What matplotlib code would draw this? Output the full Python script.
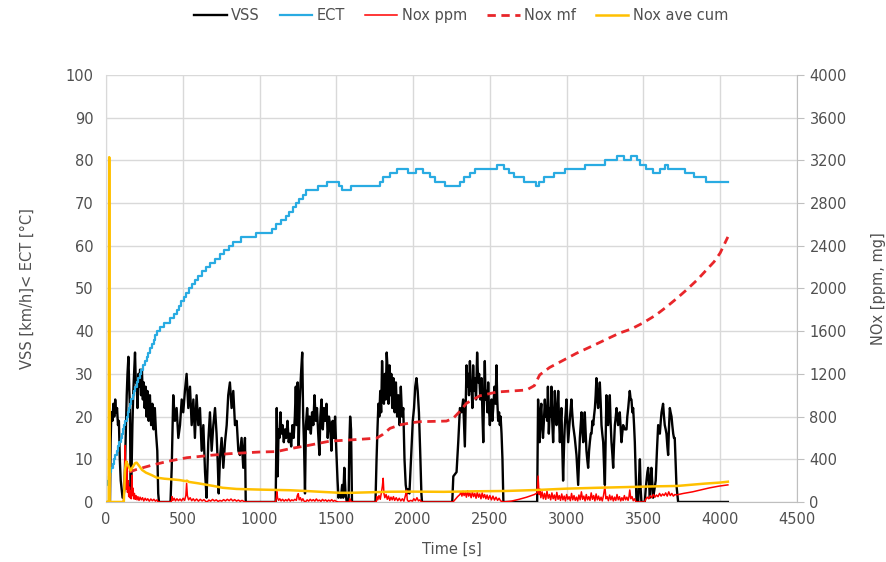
"""
Engine test trace: vehicle speed, coolant temperature and NOx over time.
Left axis: VSS / ECT, right axis: NOx (ppm, mg).
"""

import matplotlib
matplotlib.use("Agg")
import matplotlib.pyplot as plt

# ── Data ────────────────────────────────────────────────────────────────────
vss_t = [0, 26, 30, 35, 42, 48, 54, 60, 66, 72, 78, 84, 90, 96, 102, 108, 113, 120,
         128, 135, 140, 146, 152, 156, 160, 166, 172, 178, 184, 189, 194, 200, 205, 211,
         217, 222, 228, 234, 240, 246, 252, 258, 264, 270, 278, 286, 294, 302, 310, 318,
         326, 334, 340, 345,
         420, 428, 438, 449, 460, 471, 482, 493, 503, 514, 525, 536, 547, 558, 569, 579,
         590, 601, 612, 623, 634, 645, 655, 666, 677, 688, 699, 710, 720, 728, 734, 742,
         753, 764, 775, 786, 796, 807, 818, 829, 840, 851, 862, 872, 883, 894, 905, 910,
         1105, 1112, 1118, 1124, 1130, 1136, 1142, 1150, 1158, 1166, 1174, 1182, 1190,
         1198, 1206, 1214, 1222, 1230, 1236, 1242, 1248, 1255, 1262, 1270, 1278, 1284,
         1290, 1296, 1302, 1310, 1318, 1326, 1334, 1342, 1350, 1358, 1366, 1374, 1382,
         1390, 1396, 1404, 1412, 1420, 1428, 1436, 1444, 1452, 1460, 1468, 1476, 1484,
         1492, 1500, 1508, 1514, 1522, 1530, 1538, 1545, 1552, 1560, 1568, 1580, 1585,
         1590, 1596, 1602,
         1755, 1762, 1768, 1774, 1780, 1786, 1792, 1798, 1804, 1810, 1816, 1822, 1828,
         1834, 1840, 1846, 1852, 1858, 1864, 1872, 1880, 1888, 1896, 1904, 1912, 1920,
         1928, 1936, 1944, 1952, 1960, 1968, 1976, 1984, 1990, 1998, 2006, 2014, 2022,
         2030, 2038, 2046, 2054, 2058,
         2255, 2262, 2283, 2294, 2305, 2316, 2326, 2337, 2348, 2354, 2359, 2364, 2370,
         2376, 2381, 2386, 2391, 2396, 2402, 2410, 2417, 2424, 2430, 2438, 2446, 2452,
         2457, 2462, 2467, 2472, 2478, 2484, 2489, 2494, 2500, 2506, 2511, 2516, 2522,
         2530, 2537, 2543, 2548, 2554, 2560, 2565, 2570, 2576, 2582, 2588,
         2808, 2814, 2819, 2824, 2830, 2835, 2840, 2846, 2852, 2858, 2863, 2868, 2873,
         2878, 2884, 2891, 2896, 2901, 2906, 2912, 2918, 2923, 2928, 2934, 2940, 2945,
         2950, 2956, 2961, 2966, 2972, 2977, 2983, 2988, 2994, 2999, 3004, 3010, 3020,
         3031, 3036, 3042, 3053, 3064, 3070, 3075, 3086, 3097, 3102, 3108, 3113, 3118,
         3124, 3129, 3134, 3140, 3146, 3151, 3157, 3162, 3168, 3173, 3178, 3184, 3189,
         3194, 3200, 3205, 3210, 3216, 3222, 3227, 3232, 3238, 3244, 3249, 3254, 3259,
         3265, 3270, 3276, 3281, 3286, 3292, 3298, 3303, 3308, 3314, 3320, 3325, 3330,
         3335, 3341, 3346, 3352, 3357, 3362, 3368, 3379, 3390, 3395, 3401, 3406, 3411,
         3417, 3422, 3428, 3433, 3439, 3444, 3450, 3455, 3466, 3472, 3477, 3482, 3487,
         3509, 3515, 3520, 3526, 3531, 3537, 3542, 3547, 3552, 3558, 3563, 3572, 3580,
         3588, 3596, 3602, 3607, 3613, 3618, 3623, 3628, 3634, 3639, 3645, 3650, 3656,
         3661, 3666, 3672, 3677, 3683, 3688, 3694, 3699, 3704, 3710, 3715, 3726, 4050]
vss_v = [0, 0, 14, 21, 19, 23, 20, 24, 21, 22, 18, 19, 10, 5, 3, 1, 1, 3,
         15, 25, 30, 34, 26, 22, 2, 6, 18, 26, 31, 35, 28, 28, 22, 30,
         27, 31, 25, 31, 24, 28, 22, 27, 20, 26, 19, 25, 18, 23, 17, 22,
         16, 12, 2, 0,
         0, 8, 25, 19, 22, 15, 18, 24, 21, 26, 30, 22, 27, 18, 24, 15,
         25, 18, 22, 12, 18, 7, 1, 14, 21, 12, 18, 22, 16, 9, 2, 10,
         15, 8, 14, 18, 25, 28, 22, 26, 18, 19, 12, 11, 15, 8, 15, 0,
         0, 22, 6, 17, 15, 21, 16, 18, 14, 17, 15, 19, 14,
         16, 13, 18, 15, 20, 27, 18, 28, 13, 24, 30, 35, 20,
         13, 2, 18, 22, 17, 20, 16, 21, 18, 25, 19, 22, 16,
         11, 20, 24, 17, 22, 19, 23, 15, 20, 18, 12, 19, 15,
         20, 12, 5, 1, 2, 1, 4, 1, 8, 2, 0, 0, 14,
         20, 17, 0,
         0, 10, 17, 23, 20, 26, 21, 33, 26, 23, 30, 24, 35,
         31, 23, 32, 25, 30, 22, 29, 21, 28, 20, 25, 18, 27,
         20, 22, 10, 4, 2, 3, 2, 8, 13, 19, 22, 27, 29,
         26, 21, 12, 2, 0,
         0, 6, 7, 14, 22, 21, 24, 13, 32, 27, 30, 25, 33,
         26, 27, 22, 32, 26, 29, 24, 35, 28, 30, 24, 29, 20,
         14, 25, 33, 24, 26, 21, 28, 22, 18, 23, 24, 19, 22,
         27, 23, 32, 24, 19, 21, 18, 20, 16, 10, 0,
         0, 24, 18, 14, 21, 23, 18, 15, 19, 24, 20, 22, 19,
         27, 16, 22, 20, 27, 19, 14, 21, 26, 22, 18, 21, 26,
         20, 14, 19, 22, 12, 5, 13, 18, 21, 24, 19, 14, 19,
         24, 21, 18, 15, 11, 7, 4, 15, 21, 17, 14, 18, 21,
         16, 12, 10, 8, 12, 14, 16, 16, 19, 18, 20, 22, 25,
         29, 24, 22, 25, 28, 23, 18, 16, 14, 8, 4, 15, 25,
         21, 18, 22, 25, 19, 14, 11, 8, 13, 18, 20, 22, 20,
         18, 19, 21, 17, 14, 16, 18, 17, 17, 20, 22, 24, 26,
         24, 24, 21, 22, 18, 14, 6, 0, 0, 6, 10, 3, 0,
         0, 3, 5, 7, 8, 4, 1, 5, 8, 4, 1, 3, 5,
         12, 18, 17, 16, 19, 21, 22, 23, 20, 18, 17, 16, 13,
         11, 17, 22, 21, 20, 18, 16, 15, 15, 9, 4, 0, 0]

# coolant temperature: time of each 1-degree step and the level held after it
ect_t = [0, 9, 17, 26, 35, 43, 52, 61, 69, 78, 87, 95, 103, 111, 119, 127, 134,
         142, 150, 157, 165, 173, 180, 189, 199, 209, 219, 229, 240, 252, 264, 276,
         288, 300, 310, 320, 330, 350, 380, 420, 440, 460, 475, 490, 505, 520, 540,
         560, 580, 600, 625, 650, 680, 710, 740, 770, 800, 830, 880, 980, 1080, 1110,
         1140, 1170, 1195, 1220, 1240, 1260, 1280, 1300, 1380, 1440, 1520, 1540, 1595,
         1785, 1805, 1850, 1895, 1970, 2020, 2065, 2110, 2140, 2210, 2305, 2330, 2370,
         2403, 2545, 2590, 2625, 2660, 2720, 2800, 2820, 2850, 2920, 2990, 3120, 3250,
         3330, 3375, 3420, 3455, 3480, 3515, 3560, 3610, 3640, 3660, 3700, 3770, 3830,
         3905, 4050]
ect_v = [4, 5, 6, 7, 8, 9, 10, 11, 12, 13, 14, 15, 16, 17, 18, 19, 20,
         21, 22, 23, 24, 25, 26, 27, 28, 29, 30, 31, 32, 33, 34, 35,
         36, 37, 38, 39, 40, 41, 42, 43, 44, 45, 46, 47, 48, 49, 50,
         51, 52, 53, 54, 55, 56, 57, 58, 59, 60, 61, 62, 63, 64, 65,
         66, 67, 68, 69, 70, 71, 72, 73, 74, 75, 74, 73, 74,
         75, 76, 77, 78, 77, 78, 77, 76, 75, 74, 75, 76, 77,
         78, 79, 78, 77, 76, 75, 74, 75, 76, 77, 78, 79, 80,
         81, 80, 81, 80, 79, 78, 77, 78, 79, 78, 78, 77, 76,
         75, 75]

nox_ppm_t = [0, 112, 118, 122, 125, 128, 132, 136, 140, 144, 148, 152, 156, 160, 164,
             168, 172, 176, 180, 185, 190, 196, 202, 208, 215, 222, 230, 238, 246, 255,
             264, 272, 282, 292, 302, 312, 322, 332, 340, 425, 430, 436, 444, 452, 462,
             472, 482, 492, 502, 512, 520, 525, 530, 538, 548, 558, 568, 578, 590, 602,
             614, 626, 638, 650, 660, 670, 682, 694, 706, 718, 730, 742, 754, 766, 778,
             790, 802, 814, 826, 838, 850, 862, 874, 886, 898, 910, 1105, 1110, 1113,
             1117, 1124, 1132, 1140, 1150, 1160, 1170, 1180, 1190, 1200, 1210, 1220, 1230,
             1240, 1246, 1252, 1258, 1266, 1274, 1282, 1290, 1300, 1310, 1320, 1330, 1340,
             1350, 1360, 1370, 1380, 1390, 1400, 1410, 1420, 1430, 1440, 1450, 1460, 1470,
             1480, 1490, 1500, 1513, 1584, 1588, 1594, 1602, 1760, 1764, 1770, 1778, 1786,
             1794, 1800, 1805, 1810, 1816, 1824, 1832, 1840, 1848, 1856, 1864, 1872, 1880,
             1890, 1900, 1910, 1920, 1930, 1940, 1950, 1957, 1962, 1970, 1985, 1995, 2005,
             2015, 2025, 2035, 2045, 2055, 2260, 2275, 2290, 2305, 2312, 2318, 2325, 2332,
             2340, 2347, 2355, 2362, 2370, 2378, 2386, 2394, 2402, 2410, 2418, 2426, 2434,
             2442, 2450, 2458, 2466, 2474, 2482, 2490, 2500, 2510, 2520, 2530, 2540, 2550,
             2560, 2570, 2580, 2590, 2640, 2690, 2740, 2790, 2808, 2814, 2820, 2826, 2832,
             2840, 2848, 2856, 2864, 2872, 2880, 2888, 2896, 2904, 2912, 2920, 2928, 2936,
             2944, 2952, 2960, 2968, 2976, 2984, 2992, 3000, 3008, 3016, 3024, 3032, 3040,
             3048, 3056, 3064, 3072, 3080, 3088, 3096, 3104, 3112, 3120, 3128, 3136, 3144,
             3152, 3160, 3168, 3176, 3184, 3192, 3200, 3208, 3216, 3224, 3232, 3240, 3249,
             3256, 3264, 3272, 3280, 3288, 3296, 3304, 3312, 3320, 3328, 3336, 3344, 3352,
             3360, 3368, 3376, 3384, 3392, 3400, 3406, 3411, 3418, 3426, 3434, 3442, 3450,
             3456, 3508, 3515, 3525, 3535, 3545, 3555, 3565, 3575, 3585, 3595, 3605, 3615,
             3625, 3635, 3645, 3655, 3665, 3675, 3685, 3695, 3705, 3715, 3760, 3820, 3880,
             3930, 3990, 4050]
nox_ppm_v = [0, 0, 60, 300, 530, 250, 120, 380, 90, 200, 50, 140, 40, 100, 30,
             250, 60, 130, 30, 80, 25, 60, 20, 50, 15, 45, 20, 40, 10, 35,
             15, 30, 8, 28, 12, 25, 8, 20, 0, 0, 50, 15, 35, 10, 30,
             12, 28, 10, 35, 15, 60, 175, 60, 20, 40, 12, 30, 10, 28, 8,
             25, 10, 22, 5, 2, 18, 8, 24, 10, 20, 5, 15, 8, 22, 10,
             25, 12, 28, 10, 22, 8, 18, 6, 15, 5, 0, 0, 50, 97,
             40, 15, 30, 10, 25, 8, 22, 10, 28, 8, 20, 12, 25,
             15, 60, 78, 20, 40, 10, 30, 8, 2, 20, 8, 25, 10,
             22, 8, 28, 10, 18, 6, 24, 10, 20, 6, 18, 8, 22,
             6, 15, 5, 0, 0, 30, 10, 0, 0, 50, 20, 60, 25,
             90, 150, 222, 80, 40, 70, 25, 55, 15, 45, 20, 50, 15,
             40, 12, 35, 10, 30, 8, 60, 110, 20, 5, 15, 8, 30,
             12, 40, 10, 20, 0, 0, 25, 50, 70, 95, 55, 100, 60,
             90, 45, 105, 55, 85, 40, 95, 50, 80, 35, 90, 45, 75,
             30, 85, 40, 70, 30, 65, 25, 60, 20, 55, 18, 45, 15,
             35, 10, 5, 0, 8, 25, 45, 70, 85, 243, 70, 120, 40,
             95, 30, 80, 25, 100, 35, 70, 20, 85, 30, 65, 15, 90,
             25, 60, 15, 75, 20, 55, 10, 70, 25, 50, 12, 80, 20,
             60, 15, 45, 10, 65, 20, 95, 25, 55, 10, 70, 20, 50,
             15, 85, 25, 60, 10, 75, 20, 55, 15, 45, 10, 60, 144,
             30, 50, 12, 65, 20, 55, 10, 45, 15, 70, 20, 50, 10,
             40, 15, 60, 20, 45, 15, 50, 112, 30, 50, 12, 30, 5,
             0, 0, 25, 45, 30, 60, 40, 70, 45, 65, 50, 80, 55,
             75, 60, 85, 55, 95, 60, 80, 55, 70, 66, 80, 95, 115,
             132, 148, 160]

nox_mf_t = [150, 200, 250, 300, 400, 527, 600, 677, 800, 900, 1000, 1112, 1200, 1300,
            1458, 1634, 1762, 1800, 1850, 1914, 1979, 2044, 2217, 2261, 2305, 2348,
            2435, 2545, 2739, 2790, 2824, 2889, 2955, 3064, 3180, 3260, 3346, 3420,
            3497, 3580, 3650, 3720, 3780, 3850, 3910, 3960, 4000, 4050]
nox_mf_v = [280, 305, 325, 345, 380, 415, 425, 437, 452, 460, 468, 472, 500, 525,
            570, 585, 598, 630, 690, 722, 740, 752, 758, 783, 850, 925,
            995, 1030, 1049, 1090, 1190, 1260, 1310, 1393, 1470, 1525, 1583, 1620,
            1677, 1750, 1827, 1910, 1986, 2080, 2173, 2250, 2333, 2483]

nox_cum_t = [0, 18, 21, 24, 116, 124, 132, 145, 160, 175, 190, 200, 215, 235, 260,
             300, 330, 380, 430, 480, 520, 527, 540, 600, 700, 760, 850, 1000, 1100,
             1198, 1300, 1400, 1523, 1600, 1700, 1850, 2000, 2200, 2400, 2600, 2800,
             3000, 3200, 3400, 3600, 3720, 3800, 3900, 4000, 4050]
nox_cum_v = [0, 0, 3230, 0, 0, 300, 380, 340, 295, 330, 365, 368, 340, 300, 275,
             250, 228, 218, 212, 205, 195, 200, 188, 175, 150, 133, 122, 116, 113,
             110, 103, 95, 86, 86, 90, 96, 97, 95, 100, 103, 112,
             125, 133, 140, 147, 150, 160, 172, 182, 190]

# ── Style ───────────────────────────────────────────────────────────────────
plt.rcParams["font.family"] = ["DejaVu Sans"]
txt = "#505050"
grid_col = "#d9d9d9"
axis_col = "#bfbfbf"
fs = 10.5

fig = plt.figure(figsize=(8.87, 5.62), dpi=100)
ax = fig.add_axes([0.1195, 0.1068, 0.779, 0.7598])
ax2 = ax.twinx()

# primary axis series
l_vss, = ax.plot(vss_t, vss_v, color="black", lw=1.7, label="VSS")
l_ect, = ax.plot(ect_t, ect_v, color="#29abe2", lw=1.6, drawstyle="steps-post",
                 label="ECT")

# secondary axis series (drawn on top, like the original)
l_ppm, = ax2.plot(nox_ppm_t, nox_ppm_v, color="#ff0000", lw=1.1, label="Nox ppm")
l_mf, = ax2.plot(nox_mf_t, nox_mf_v, color="#e8262a", lw=2.0, dashes=(3, 2),
                 label="Nox mf")
l_cum, = ax2.plot(nox_cum_t, nox_cum_v, color="#ffc000", lw=1.8, label="Nox ave cum")

ax.set_xlim(0, 4500)
ax.set_ylim(0, 100)
ax2.set_ylim(0, 4000)
ax.set_xticks(range(0, 4501, 500))
ax.set_yticks(range(0, 101, 10))
ax2.set_yticks(range(0, 4001, 400))

ax.grid(True, color=grid_col, lw=1.0)
ax.set_axisbelow(True)

for s in ["top", "right"]:
    ax.spines[s].set_visible(False)
ax.spines["left"].set_color(grid_col)
ax.spines["bottom"].set_color(axis_col)
for s in ["top", "left", "bottom"]:
    ax2.spines[s].set_visible(False)
ax2.spines["right"].set_color(axis_col)

ax.tick_params(axis="x", length=0, pad=7, labelcolor=txt, labelsize=fs)
ax.tick_params(axis="y", length=0, pad=9, labelcolor=txt, labelsize=fs)
ax2.tick_params(axis="y", length=5, color=axis_col, pad=4, labelcolor=txt,
                labelsize=fs)

ax.set_xlabel("Time [s]", color=txt, fontsize=fs, labelpad=11)
ax.set_ylabel("VSS [km/h]< ECT [°C]", color=txt, fontsize=fs, labelpad=22)
ax2.set_ylabel("NOx [ppm, mg]", color=txt, fontsize=fs, labelpad=17)

handles = [l_vss, l_ect, l_ppm, l_mf, l_cum]
leg = fig.legend(handles, [h.get_label() for h in handles], loc="center",
                 bbox_to_anchor=(0.52, 0.972), ncol=5, frameon=False,
                 handlelength=2.2, handletextpad=0.3, columnspacing=1.4,
                 fontsize=fs)
for t in leg.get_texts():
    t.set_color(txt)

fig.savefig("out.png", dpi=100)
